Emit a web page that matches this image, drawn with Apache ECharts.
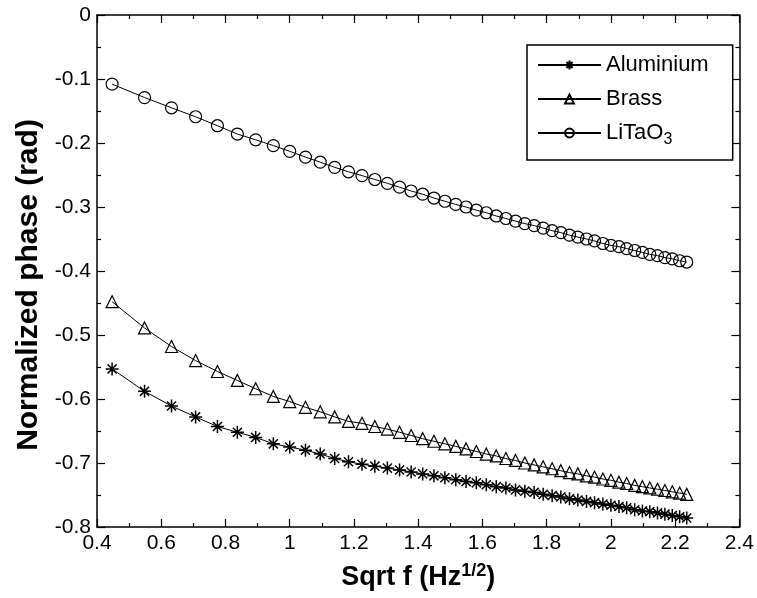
<!DOCTYPE html>
<html>
<head>
<meta charset="utf-8">
<script src="https://cdn.jsdelivr.net/npm/echarts@6/dist/echarts.min.js"></script>
<style>
  html, body { margin: 0; padding: 0; background: #fff; }
  #chart { width: 757px; height: 598px; }
</style>
</head>
<body>
<div id="chart"></div>
<script>
const sqrtF = [
  0.447, 0.548, 0.632, 0.707, 0.775, 0.837, 0.894, 0.949, 1.000, 1.049,
  1.095, 1.140, 1.183, 1.225, 1.265, 1.304, 1.342, 1.378, 1.414, 1.449,
  1.483, 1.517, 1.549, 1.581, 1.612, 1.643, 1.673, 1.703, 1.732, 1.761,
  1.789, 1.817, 1.844, 1.871, 1.897, 1.924, 1.949, 1.975, 2.000, 2.025,
  2.049, 2.074, 2.098, 2.121, 2.145, 2.168, 2.191, 2.214, 2.236
]

const aluminium = [
  -0.553, -0.588, -0.611, -0.628, -0.643, -0.652, -0.660, -0.670, -0.675, -0.680,
  -0.686, -0.693, -0.698, -0.702, -0.705, -0.708, -0.711, -0.714, -0.717, -0.720,
  -0.723, -0.726, -0.729, -0.731, -0.734, -0.737, -0.739, -0.742, -0.744, -0.746,
  -0.749, -0.751, -0.753, -0.756, -0.758, -0.760, -0.762, -0.764, -0.766, -0.768,
  -0.770, -0.773, -0.775, -0.776, -0.778, -0.780, -0.782, -0.784, -0.786
]

const brass = [
  -0.448, -0.489, -0.518, -0.540, -0.557, -0.571, -0.584, -0.596, -0.604, -0.613,
  -0.620, -0.628, -0.635, -0.638, -0.643, -0.647, -0.652, -0.657, -0.662, -0.666,
  -0.670, -0.674, -0.678, -0.682, -0.686, -0.689, -0.693, -0.696, -0.700, -0.703,
  -0.706, -0.709, -0.712, -0.715, -0.717, -0.720, -0.722, -0.725, -0.727, -0.730,
  -0.732, -0.735, -0.737, -0.739, -0.741, -0.743, -0.745, -0.747, -0.749
]

const litao3 = [
  -0.108, -0.129, -0.145, -0.159, -0.173, -0.186, -0.195, -0.204, -0.213, -0.222,
  -0.230, -0.238, -0.245, -0.251, -0.257, -0.263, -0.269, -0.275, -0.280, -0.286,
  -0.291, -0.296, -0.300, -0.305, -0.309, -0.314, -0.318, -0.322, -0.326, -0.329,
  -0.333, -0.337, -0.340, -0.344, -0.347, -0.350, -0.353, -0.357, -0.360, -0.362,
  -0.365, -0.368, -0.371, -0.374, -0.376, -0.379, -0.381, -0.384, -0.386
]

const seriesNames = ['Aluminium', 'Brass', 'LiTaO3']

const font = '"Liberation Sans", Arial, sans-serif'
const starPath = 'path://M0,-10L0,10M-10,0L10,0M-7,-7L7,7M-7,7L7,-7'

const pairs = ys => sqrtF.map((x, i) => [x, ys[i]])

const chart = echarts.init(document.getElementById('chart'))

const frameAxis = (extra) => Object.assign({
  type: 'value',
  axisLine: { show: true, onZero: false, lineStyle: { color: '#000', width: 1.5 } },
  axisTick: { show: true, inside: true, length: 8, lineStyle: { color: '#000', width: 1.2 } },
  minorTick: { show: true, splitNumber: 2, length: 4, lineStyle: { color: '#000', width: 1.2 } },
  splitLine: { show: false },
  axisLabel: { show: false }
}, extra)

const tickLabel = { show: true, color: '#000', fontFamily: font, fontSize: 21, margin: 6 }

const makeSeries = (name, data, symbol, size) => ({
  name: name,
  type: 'line',
  data: pairs(data),
  symbol: symbol,
  symbolSize: size,
  showAllSymbol: true,
  lineStyle: { color: '#000', width: 1 },
  itemStyle: { color: 'rgba(0,0,0,0)', borderColor: '#000', borderWidth: 1.2 },
  emphasis: { disabled: true },
  animation: false
})

const option = {
  backgroundColor: '#fff',
  animation: false,
  grid: { left: 97, top: 15, right: 11, bottom: 71 },
  legend: {
    data: seriesNames,
    orient: 'vertical',
    left: 527,
    top: 45,
    padding: [8, 24, 12, 10],
    itemWidth: 63,
    itemHeight: 11,
    itemGap: 10,
    borderColor: '#000',
    borderWidth: 1.5,
    backgroundColor: '#fff',
    textStyle: {
      color: '#000', fontFamily: font, fontSize: 22, lineHeight: 24,
      rich: { sub: { fontFamily: font, fontSize: 16, padding: [14, 0, 0, 0] } }
    },
    formatter: name => name === 'LiTaO3' ? 'LiTaO{sub|3}' : name
  },
  xAxis: [
    frameAxis({
      position: 'bottom', min: 0.4, max: 2.4, interval: 0.2,
      axisLabel: tickLabel,
      name: 'Sqrt f (Hz{sup|1/2})',
      nameLocation: 'middle',
      nameGap: 35,
      nameTextStyle: {
        color: '#000', fontFamily: font, fontSize: 27, fontWeight: 'bold',
        rich: { sup: { fontFamily: font, fontSize: 18, padding: [0, 0, 14, 0] } }
      }
    }),
    frameAxis({ position: 'top', min: 0.4, max: 2.4, interval: 0.2 })
  ],
  yAxis: [
    frameAxis({
      position: 'left', min: -0.8, max: 0, interval: 0.1,
      axisLabel: tickLabel,
      name: 'Normalized phase (rad)',
      nameLocation: 'middle',
      nameGap: 51,
      nameTextStyle: { color: '#000', fontFamily: font, fontSize: 30, fontWeight: 'bold', padding: [0, 28, 0, 0] }
    }),
    frameAxis({ position: 'right', min: -0.8, max: 0, interval: 0.1 })
  ],
  series: [
    makeSeries(seriesNames[0], aluminium, starPath, 13),
    makeSeries(seriesNames[1], brass, 'triangle', 12),
    makeSeries(seriesNames[2], litao3, 'circle', 12)
  ]
}

option.series[0].itemStyle.borderWidth = 1.5

chart.setOption(option)
</script>
</body>
</html>
